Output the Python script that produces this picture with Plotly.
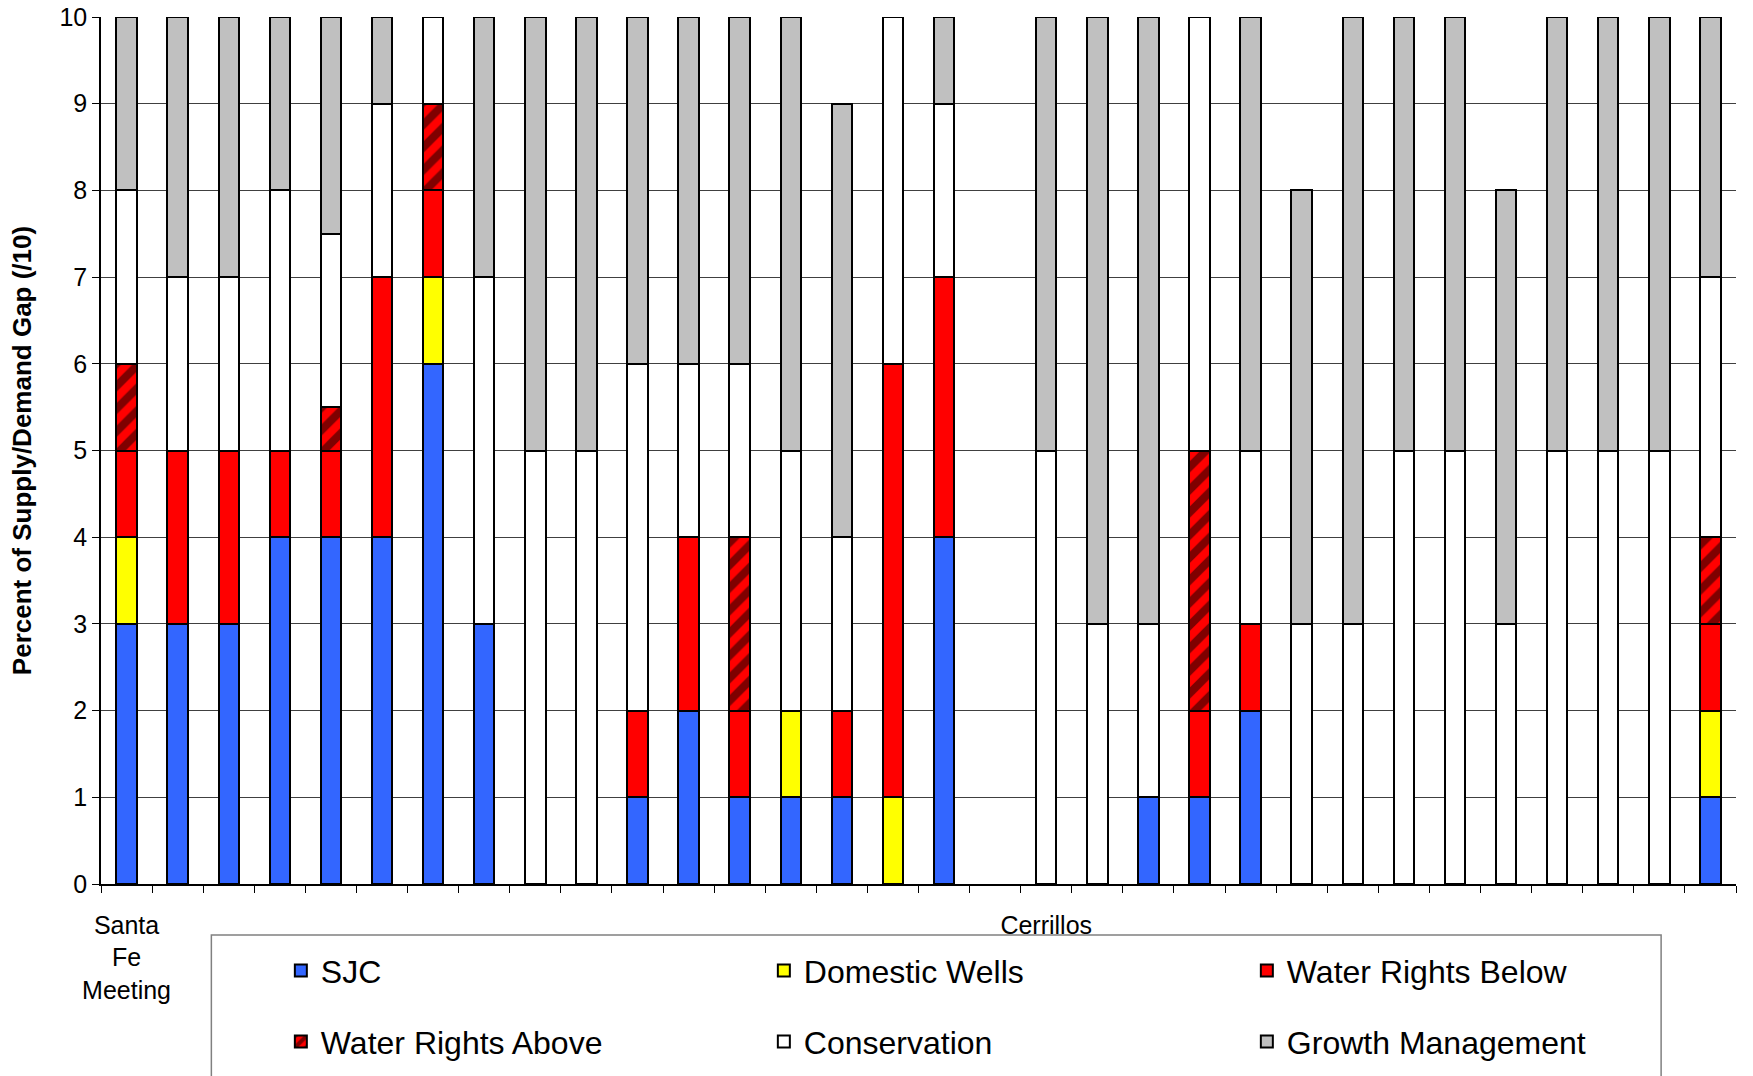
import plotly.graph_objects as go

# ---- data ----
positions = list(range(32))            # 32 category slots (slot 17 is empty)
label_positions = [0, 18]
label_texts = ["Santa<br>Fe<br>Meeting", "Cerrillos"]

sjc          = [3, 3, 3, 4, 4,   4, 6, 3, 0, 0, 1, 2, 1, 1, 1, 0, 4, 0, 0, 0, 1, 1, 2, 0, 0, 0, 0, 0, 0, 0, 0, 1]
domestic     = [1, 0, 0, 0, 0,   0, 1, 0, 0, 0, 0, 0, 0, 1, 0, 1, 0, 0, 0, 0, 0, 0, 0, 0, 0, 0, 0, 0, 0, 0, 0, 1]
wr_below     = [1, 2, 2, 1, 1,   3, 1, 0, 0, 0, 1, 2, 1, 0, 1, 5, 3, 0, 0, 0, 0, 1, 1, 0, 0, 0, 0, 0, 0, 0, 0, 1]
wr_above     = [1, 0, 0, 0, 0.5, 0, 1, 0, 0, 0, 0, 0, 2, 0, 0, 0, 0, 0, 0, 0, 0, 3, 0, 0, 0, 0, 0, 0, 0, 0, 0, 1]
conservation = [2, 2, 2, 3, 2,   2, 1, 4, 5, 5, 4, 2, 2, 3, 2, 4, 2, 0, 5, 3, 2, 5, 2, 3, 3, 5, 5, 3, 5, 5, 5, 3]
growth       = [2, 3, 3, 2, 2.5, 1, 0, 3, 5, 5, 4, 4, 4, 5, 5, 0, 1, 0, 5, 7, 7, 0, 5, 5, 7, 5, 5, 5, 5, 5, 5, 3]

y_ticks = list(range(0, 11))

FONT = "Liberation Sans, Arial, sans-serif"


def nz(values):
    return [v if v else None for v in values]


series = [
    ("SJC", sjc, "#3366FF", None, "legend"),
    ("Domestic Wells", domestic, "#FFFF00", None, "legend"),
    ("Water Rights Below", wr_below, "#FF0000", None, "legend"),
    ("Water Rights Above", wr_above, "#FF0000", "/", "legend2"),
    ("Conservation", conservation, "#FFFFFF", None, "legend2"),
    ("Growth Management", growth, "#C0C0C0", None, "legend2"),
]

fig = go.Figure()
for name, vals, color, shape, leg in series:
    marker = dict(color=color, line=dict(color="#000000", width=2))
    if shape:
        marker["pattern"] = dict(shape=shape, fgcolor="#000000", bgcolor=color,
                                 size=16, solidity=0.5, fillmode="overlay")
    fig.add_trace(go.Bar(x=positions, y=nz(vals), name=name, marker=marker,
                         legend=leg, width=0.4))

boundaries = [p - 0.5 for p in positions] + [positions[-1] + 0.5]

fig.update_layout(
    width=1753, height=1076,
    margin=dict(l=101, r=17, t=17, b=192, autoexpand=False),
    barmode="stack",
    plot_bgcolor="#FFFFFF", paper_bgcolor="#FFFFFF",
    font=dict(family=FONT, color="#000000", size=24),
    showlegend=True,
    xaxis=dict(
        range=[-0.5, 31.5], tickmode="array", tickvals=label_positions,
        ticktext=label_texts, ticks="outside", ticklen=18,
        tickcolor="rgba(0,0,0,0)",
        tickfont=dict(family=FONT, size=25, color="#000000"),
        minor=dict(tickmode="array", tickvals=boundaries, ticks="outside",
                   ticklen=7, tickcolor="#000000", tickwidth=1, showgrid=False),
        showline=True, linecolor="#000000",
        linewidth=1.5, showgrid=False, zeroline=False, automargin=False,
    ),
    yaxis=dict(
        range=[0, 10], tickmode="array", tickvals=y_ticks, ticks="outside",
        ticklen=7, tickcolor="#000000", showline=True, linecolor="#000000",
        linewidth=1.5, showgrid=True, gridcolor="#404040", gridwidth=1,
        zeroline=False, automargin=False,
        tickfont=dict(family=FONT, size=25, color="#000000"),
        title=dict(text="<b>Percent of Supply/Demand Gap (/10)</b>",
                   font=dict(family=FONT, size=26, color="#000000"), standoff=20),
    ),
    yaxis2=dict(
        overlaying="y", side="right", anchor="x", range=[0, 10],
        showline=True, linecolor="#808080", linewidth=1.5, showgrid=False,
        showticklabels=False, ticks="", zeroline=False, automargin=False,
    ),
    legend=dict(
        orientation="h", x=0.110, xanchor="left", y=-0.100, yanchor="middle",
        entrywidth=438, entrywidthmode="pixels", bgcolor="rgba(0,0,0,0)",
        borderwidth=0, font=dict(family=FONT, size=32, color="#000000"),
        traceorder="normal",
    ),
    legend2=dict(
        orientation="h", x=0.110, xanchor="left", y=-0.182, yanchor="middle",
        entrywidth=438, entrywidthmode="pixels", bgcolor="rgba(0,0,0,0)",
        borderwidth=0, font=dict(family=FONT, size=32, color="#000000"),
        traceorder="normal",
    ),
    shapes=[dict(type="rect", xref="paper", yref="paper", x0=0.0675, x1=0.9542,
                 y0=-0.0588, y1=-0.30, line=dict(color="#808080", width=1.5),
                 fillcolor="rgba(0,0,0,0)", layer="below")],
)

# remove the browser's default 8px body margin so the figure sits at the page origin
fig.write_html("out.html",
               config={"displayModeBar": False},
               post_script="document.body.style.margin='0';document.body.style.overflow='hidden';")
